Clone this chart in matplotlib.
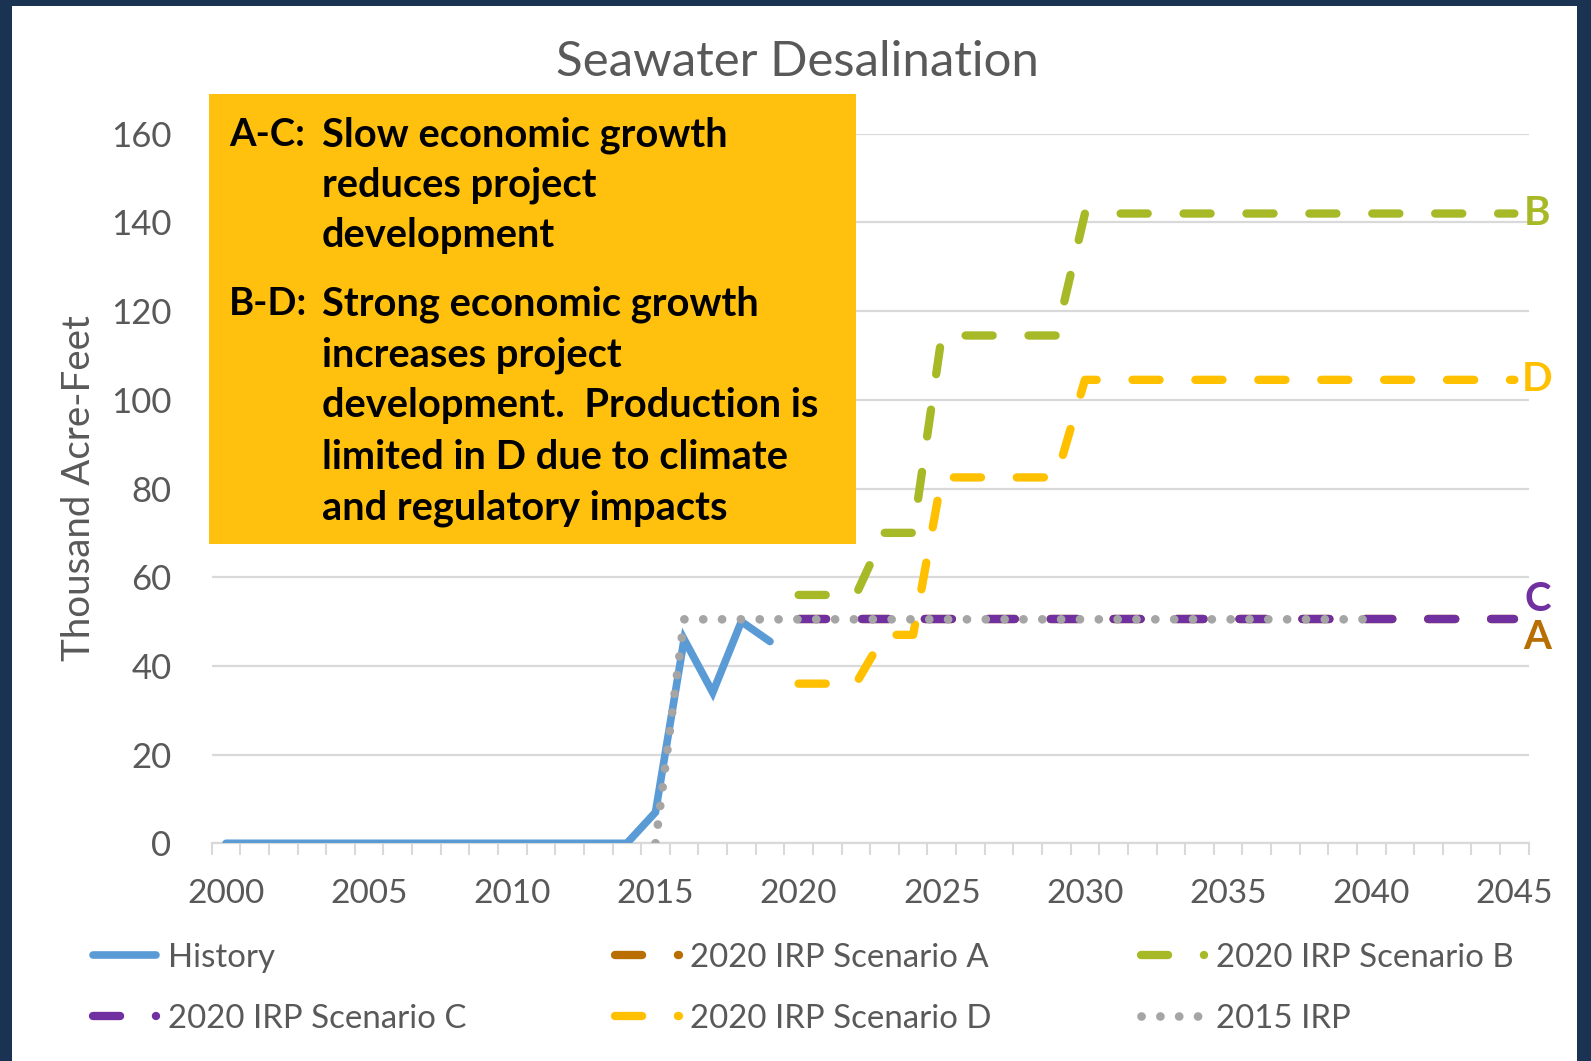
import matplotlib.pyplot as plt
from matplotlib.patches import Rectangle
from matplotlib.lines import Line2D

plt.rcParams['font.family'] = ['Lato', 'DejaVu Sans']

W, H = 1591, 1061

# data (thousand acre-feet)
years = list(range(2000, 2046))
history_years = list(range(2000, 2020))
history = [0, 0, 0, 0, 0, 0, 0, 0, 0, 0, 0, 0, 0, 0, 0, 7, 46, 34, 50, 45.5]
scen_years = list(range(2020, 2046))
scen_a = [50.5] * 26
scen_b = [56, 56, 56, 70, 70, 114.5, 114.5, 114.5, 114.5, 114.5] + [142] * 16
scen_c = [50.5] * 26
scen_d = [36, 36, 36, 47, 47, 82.5, 82.5, 82.5, 82.5, 82.5] + [104.5] * 16
irp2015_years = list(range(2015, 2041))
irp2015 = [0] + [50.5] * 25

blue = '#5b9bd5'
orange = '#b86e00'
green = '#a8b928'
purple = '#7030a0'
yellow = '#ffc000'
gray = '#a5a5a5'
txt = '#595959'
long_dash = (3.25, 4.3)
dots = (0.01, 2.16)


def px(x, y):
    return x / W, 1 - y / H


fig = plt.figure(figsize=(W / 100, H / 100), dpi=100)
fig.patch.set_facecolor('#1b3352')
fig.add_artist(Rectangle((12 / W, 0), (1577 - 12) / W, 1 - 6 / H,
                         transform=fig.transFigure, facecolor='white',
                         edgecolor='none', zorder=-1))

ax = fig.add_axes([211.7 / W, 1 - 843.3 / H, (1528.7 - 211.7) / W, (843.3 - 133.7) / H])
ax.set_facecolor('none')

ax.plot(history_years, history, color=blue, lw=5.5, solid_capstyle='round',
        solid_joinstyle='miter', zorder=3)
ax.plot(scen_years, scen_a, color=orange, lw=6, dashes=long_dash,
        dash_capstyle='round', zorder=4)
ax.plot(scen_years, scen_b, color=green, lw=6, dashes=long_dash,
        dash_capstyle='round', zorder=4)
ax.plot(scen_years, scen_c, color=purple, lw=6, dashes=long_dash,
        dash_capstyle='round', zorder=4)
ax.plot(scen_years, scen_d, color=yellow, lw=6, dashes=long_dash,
        dash_capstyle='round', zorder=4)
ax.plot(irp2015_years, irp2015, color=gray, lw=6.25, dashes=dots,
        dash_capstyle='round', zorder=5)

ax.set_xlim(1999.5, 2045.5)
ax.set_ylim(0, 160)
ax.set_yticks(range(0, 161, 20))
ax.set_xticks(range(2000, 2046, 5))
ax.set_xticks([y - 0.5 for y in years] + [2045.5], minor=True)
ax.tick_params(axis='x', which='major', length=0, pad=26, labelsize=24, labelcolor=txt)
ax.tick_params(axis='x', which='minor', length=8.6, width=1.5, color='#d9d9d9')
ax.tick_params(axis='y', length=0, pad=29, labelsize=25, labelcolor=txt)
ax.yaxis.grid(True, color='#d9d9d9', lw=1.6)
ax.set_axisbelow(True)
for s in ['left', 'top', 'right']:
    ax.spines[s].set_visible(False)
ax.spines['bottom'].set_color('#d9d9d9')
ax.spines['bottom'].set_linewidth(1.6)

ax.set_ylabel('Thousand Acre-Feet', fontsize=27.7, color=txt)
ax.yaxis.set_label_coords(-0.087, 0.5)

# end labels
for lab, yv, col in [('B', 142, green), ('D', 104.5, yellow), ('C', 54.9, purple), ('A', 46.5, orange)]:
    ax.text(2045.8, yv, lab, color=col, fontsize=29, fontweight='bold',
            ha='center', va='center', clip_on=False)

fig.text(*px(797, 62), 'Seawater Desalination', ha='center', va='center',
         fontsize=35.4, color=txt)

# annotation box
x0, y0 = px(209, 543.9)
fig.add_artist(Rectangle((x0, y0), (856.4 - 209) / W, (543.9 - 94.4) / H,
                         transform=fig.transFigure, facecolor='#ffc10e',
                         edgecolor='none', zorder=5))
box_lines = [('A-C:', 'Slow economic growth'),
             ('', 'reduces project'),
             ('', 'development'),
             ('B-D:', 'Strong economic growth'),
             ('', 'increases project'),
             ('', 'development.  Production is'),
             ('', 'limited in D due to climate'),
             ('', 'and regulatory impacts')]
line_y = [132, 182.6, 233.4, 301.4, 352, 402.8, 454.6, 505.3]
for (head, body), yc in zip(box_lines, line_y):
    if head:
        fig.text(*px(229.3, yc + 14), head, fontsize=27.5, fontweight='bold',
                 color='black', va='baseline', zorder=6)
    fig.text(*px(322, yc + 14), body, fontsize=28.7, fontweight='bold',
             color='black', va='baseline', zorder=6)

# legend
handles = [
    Line2D([], [], color=blue, lw=5.5, solid_capstyle='round'),
    Line2D([], [], color=purple, lw=6, dashes=long_dash, dash_capstyle='round'),
    Line2D([], [], color=orange, lw=6, dashes=long_dash, dash_capstyle='round'),
    Line2D([], [], color=yellow, lw=6, dashes=long_dash, dash_capstyle='round'),
    Line2D([], [], color=green, lw=6, dashes=long_dash, dash_capstyle='round'),
    Line2D([], [], color=gray, lw=6.25, dashes=dots, dash_capstyle='round'),
]
labels = ['History', '2020 IRP Scenario C', '2020 IRP Scenario A',
          '2020 IRP Scenario D', '2020 IRP Scenario B', '2015 IRP']
fig.legend(handles, labels, ncol=3, loc='upper left', bbox_to_anchor=px(93, 943),
           frameon=False, fontsize=23.8, labelcolor=txt, handlelength=1.92,
           handletextpad=0.35, columnspacing=4.5, labelspacing=0.93,
           borderpad=0, borderaxespad=0)

fig.savefig('out.png', dpi=100, facecolor=fig.get_facecolor())
